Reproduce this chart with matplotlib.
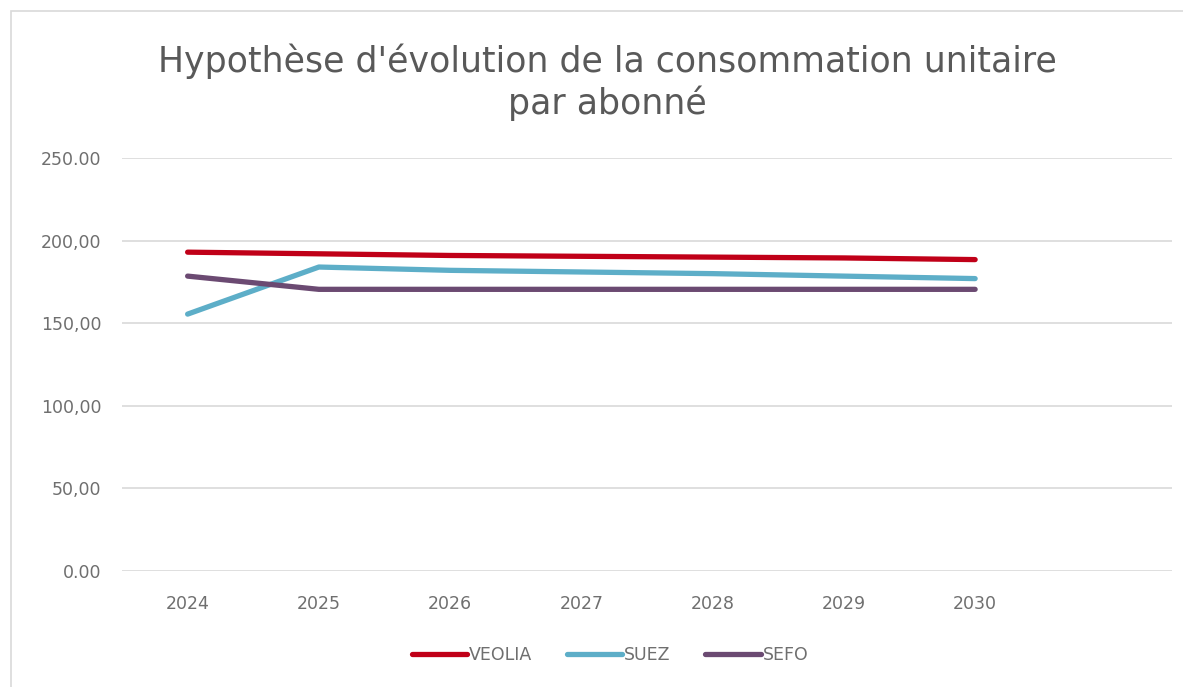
import matplotlib.pyplot as plt
from matplotlib.patches import Rectangle

# data
years = ["2024", "2025", "2026", "2027", "2028", "2029", "2030", ""]
veolia = [193.0, 192.0, 191.0, 190.5, 190.0, 189.5, 188.5]
suez = [155.5, 184.0, 182.0, 181.0, 180.0, 178.5, 177.0]
sefo = [178.5, 170.5, 170.5, 170.5, 170.5, 170.5, 170.5]
y_ticks = [0, 50, 100, 150, 200, 250]
y_labels = ["0.00", "50,00", "100,00", "150,00", "200,00", "250.00"]

text_col = "#595959"
tick_col = "#6f6f6f"
grid_col = "#d9d9d9"

fig = plt.figure(figsize=(11.83, 6.87), dpi=100)
fig.patch.set_facecolor("white")

# chart area border
fig.patches.append(Rectangle((11 / 1183, -0.01), 1.02, 1 - 11 / 687 + 0.01,
                             transform=fig.transFigure, fill=False,
                             edgecolor=grid_col, linewidth=1.2))

ax = fig.add_axes([122 / 1183, 1 - 571 / 687, 1050 / 1183, 413 / 687])

x = list(range(len(veolia)))
ax.plot(x, veolia, color="#C00018", lw=3.8, label="VEOLIA", solid_capstyle="round")
ax.plot(x, suez, color="#5DAEC8", lw=3.8, label="SUEZ", solid_capstyle="round")
ax.plot(x, sefo, color="#6B4A72", lw=3.8, label="SEFO", solid_capstyle="round")

ax.set_xlim(-0.5, len(years) - 0.5)
ax.set_ylim(0, 250)
ax.set_xticks(range(len(years)))
ax.set_xticklabels(years)
ax.set_yticks(y_ticks)
ax.set_yticklabels(y_labels)
ax.tick_params(axis="both", length=0, labelsize=12.5, labelcolor=tick_col)
ax.tick_params(axis="x", pad=17)
ax.tick_params(axis="y", pad=15)
ax.grid(axis="y", color=grid_col, lw=1.2)
ax.set_axisbelow(True)
for s in ax.spines.values():
    s.set_visible(False)

fig.text(607 / 1183, 1 - 82 / 687, "Hypothèse d'évolution de la consommation unitaire\npar abonné",
         ha="center", va="center", fontsize=25, color=text_col, linespacing=1.22)

fig.legend(loc="center", bbox_to_anchor=(610 / 1183, 1 - 655 / 687), ncol=3, frameon=False,
           fontsize=12.5, labelcolor=tick_col, handlelength=3.2, handletextpad=0.1,
           columnspacing=2.0)

fig.savefig("out.png", dpi=100)
